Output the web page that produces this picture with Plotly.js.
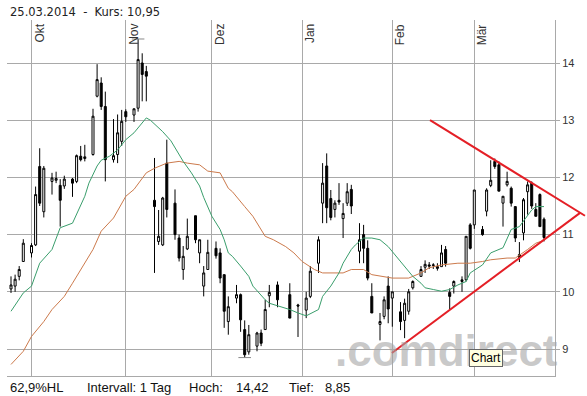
<!DOCTYPE html>
<html><head><meta charset="utf-8">
<script src="https://cdn.plot.ly/plotly-3.0.1.min.js"></script>
<style>html,body{margin:0;padding:0;background:#fff}#c{width:587px;height:396px}</style>
</head><body><div id="c"></div>
<script>
// ---- data (trading-day index 0 = 24.09.2013 ... 130 = 25.03.2014) ----
const openP  = [10.05,10.10,10.27,10.53,null,10.68,10.82,12.19,11.40,null,
  11.93,11.95,11.86,11.85,null,11.97,11.93,12.37,12.33,null,
  12.40,13.42,13.65,13.24,null,12.31,12.40,12.63,13.15,null,
  13.09,13.21,14.00,13.85,null,11.60,10.88,10.82,12.25,null,
  11.55,10.94,10.39,10.75,null,11.33,10.68,10.10,10.39,null,
  10.76,10.68,10.30,9.48,null,9.89,9.95,9.34,8.95,null,
  9.05,9.28,9.34,9.93,null,10.12,null,null,9.95,null,
  9.77,null,9.68,9.92,null,10.50,11.55,12.20,11.63,11.44,
  11.60,11.28,11.55,11.79,null,10.71,11.00,10.76,9.92,null,
  9.43,9.57,10.10,9.89,null,9.65,9.50,9.66,10.07,null,
  10.27,10.43,10.47,10.46,10.44,10.44,10.74,9.99,10.10,null,
  10.18,10.21,11.17,11.17,null,11.09,11.41,11.86,12.28,12.22,
  11.55,11.87,11.81,11.49,10.65,11.03,11.75,11.90,11.44,11.70,11.27];
const highP  = [10.27,10.30,10.45,10.92,null,10.85,11.84,12.51,12.20,null,
  12.08,12.10,11.97,12.03,null,11.99,12.40,12.55,12.57,null,
  13.20,13.98,13.75,13.50,null,13.02,13.10,13.18,13.19,null,
  13.20,14.42,14.17,13.95,null,12.34,11.43,11.66,12.66,null,
  11.79,11.00,10.80,11.28,null,11.33,10.91,10.45,10.91,null,
  10.88,10.76,10.30,9.92,null,10.12,9.97,9.50,9.42,null,
  9.30,9.34,9.86,10.12,null,10.18,null,null,10.15,null,
  9.79,null,10.00,10.45,null,10.97,12.25,12.42,11.78,11.60,
  11.90,11.55,11.90,11.87,null,11.20,11.17,10.90,10.15,null,
  9.63,9.92,10.27,10.00,null,9.82,9.88,10.05,10.20,null,
  10.45,10.55,10.52,10.50,10.50,10.82,10.80,10.06,10.20,null,
  10.27,10.97,11.20,11.78,null,11.15,11.81,12.30,12.33,12.28,
  11.67,12.10,11.84,11.49,10.87,11.64,11.93,11.93,11.55,11.72,11.30];
const lowP   = [9.98,10.00,10.20,10.53,null,10.60,10.80,11.50,11.30,null,
  11.70,11.90,11.14,11.80,null,11.66,11.90,12.28,12.28,null,
  12.38,13.40,13.18,11.93,null,12.26,12.25,12.55,12.97,null,
  12.97,13.15,13.33,13.33,null,10.33,10.82,10.80,11.30,null,
  10.91,10.53,10.21,10.73,null,10.85,10.50,9.92,10.39,null,
  10.58,10.15,9.37,9.25,null,9.80,9.30,8.85,8.90,null,
  8.96,9.05,9.34,9.73,null,9.73,null,null,9.54,null,
  9.21,null,9.54,9.89,null,10.33,11.20,11.20,11.25,11.30,
  11.52,10.94,11.50,11.36,null,10.50,10.50,10.20,9.63,null,
  9.15,9.52,9.45,9.39,null,9.33,9.19,9.60,10.04,null,
  10.27,10.33,10.40,10.40,10.37,10.44,10.44,9.69,9.97,null,
  10.00,10.18,10.74,11.10,null,10.98,11.32,11.83,12.15,11.76,
  11.14,11.84,11.49,10.87,10.52,10.90,11.35,11.45,11.32,11.14,10.88];
const closeP = [10.12,10.22,10.39,10.85,null,10.81,11.70,11.55,12.16,null,
  11.99,11.98,11.60,11.97,null,11.90,12.38,12.31,12.36,null,
  13.07,13.71,13.24,12.31,null,12.38,12.78,12.98,13.06,null,
  13.20,14.06,13.80,13.77,null,11.49,10.97,11.64,11.44,null,
  11.00,10.59,10.62,10.97,null,10.91,10.91,10.33,10.69,null,
  10.63,10.24,9.66,9.74,null,9.95,9.51,8.90,9.25,null,
  9.28,9.10,9.69,9.99,null,9.86,null,null,9.54,null,
  9.75,null,9.89,10.36,null,10.91,11.90,11.47,11.30,11.55,
  11.57,11.37,11.75,11.50,null,10.91,10.76,10.24,9.63,null,
  9.48,9.86,9.70,10.00,null,9.48,9.80,10.00,10.18,null,
  10.39,10.48,10.45,10.47,10.41,10.68,10.50,9.92,10.18,null,
  10.21,10.97,10.76,11.78,null,11.00,11.78,11.95,12.19,11.76,
  11.67,11.93,11.55,10.94,10.60,11.61,11.87,11.50,11.32,11.14,10.95];

const monthIdx    = [5, 28, 49, 71, 93, 113];
const monthLabels = ['Okt', 'Nov', 'Dez', 'Jan', 'Feb', 'Mär'];
const priceTicks  = [9, 10, 11, 12, 13, 14];

const maShortIdx = [0,3,5,7,10,12,15,18,19,21,22,24,26,28,30,33,34,37,39,41,42,44,46,47,49,51,52,53,54,56,58,59,62,63,68,70,72,75,76,78,80,81,83,84,86,88,90,92,94,96,98,100,101,103,105,107,109,111,112,115,117,120,122,124,126,127,128,130];
const maShort = [9.66,9.98,10.1,10.5,10.74,11.12,11.2,11.67,11.9,12.2,12.3,12.37,12.48,12.66,12.78,13.04,13.0,12.8,12.64,12.4,12.28,12.08,11.85,11.65,11.32,11.09,10.91,10.68,10.62,10.45,10.27,10.1,9.86,9.8,9.69,9.63,9.58,9.69,9.92,10.1,10.33,10.5,10.74,10.82,10.94,10.94,10.91,10.79,10.62,10.45,10.27,10.15,10.07,10.04,10.01,10.04,10.12,10.18,10.33,10.47,10.68,10.77,11.09,11.14,11.32,11.43,11.49,11.49];
const maLongIdx = [0,3,5,8,10,13,15,18,20,22,25,28,30,33,35,38,41,43,46,48,51,53,54,57,59,62,64,67,69,71,74,76,78,81,83,86,88,91,93,97,100,102,105,109,112,115,117,121,123,126,128,130];
const maLong = [8.73,8.96,9.22,9.48,9.69,9.92,10.15,10.5,10.74,11.06,11.29,11.67,11.79,12.08,12.16,12.25,12.28,12.25,12.22,12.11,12.08,11.81,11.75,11.49,11.32,10.97,10.91,10.79,10.68,10.53,10.39,10.33,10.33,10.33,10.39,10.39,10.3,10.27,10.24,10.24,10.33,10.42,10.47,10.5,10.5,10.53,10.56,10.59,10.59,10.74,10.85,10.9];

// hand-drawn triangle (day index, price)
const upperLineX = [102.2, 140.0], upperLineY = [13.00, 11.33];
const lowerLineX = [92.9, 138.8],  lowerLineY = [8.93, 11.38];

const headerText = '25.03.2014\u00a0\u00a0-\u00a0\u00a0Kurs:\u00a010,95';
const footerTexts = ['62,9%HL', 'Intervall: 1 Tag', 'Hoch:', '14,42', 'Tief:', '8,85'];

// ---- build ----
const dayIdx = openP.map((_, i) => i);
let hiI = 0, loI = 0;
highP.forEach((v, i) => { if (v !== null && v > highP[hiI]) hiI = i; });
lowP.forEach((v, i) => { if (v !== null && v < lowP[loI]) loI = i; });

const W = 587, H = 396, ML = 7, MR = 0, MT = 20, MB = 20;
const plotW = W - ML - MR;
const mainW = 548, pxDay = 4.1, xStart = -0.976;
const yRange = [8.528, 14.752];
const grid = '#a9a9a9';
const pxX = px => (px - ML) / plotW;
const pxY = py => (H - MB - py) / (H - MT - MB);

const traces = [
  {type:'scatter', mode:'lines', x: maLongIdx, y: maLong, line:{color:'#cc7a4c', width:1}, hoverinfo:'skip'},
  {type:'scatter', mode:'lines', x: maShortIdx, y: maShort, line:{color:'#3a9e6c', width:1}, hoverinfo:'skip'},
  {type:'candlestick', x: dayIdx, open: openP, high: highP, low: lowP, close: closeP,
   increasing:{line:{color:'#000', width:1}, fillcolor:'#fff'},
   decreasing:{line:{color:'#000', width:1}, fillcolor:'#000'},
   whiskerwidth: 0, hoverinfo:'skip'},
  {type:'scatter', mode:'markers', x:[hiI, loI], y:[highP[hiI], lowP[loI]],
   marker:{symbol:'line-ew', size:9, line:{color:'#888', width:1}}, hoverinfo:'skip'},
  {type:'scatter', mode:'lines', x: upperLineX, y: upperLineY, xaxis:'x2', yaxis:'y2',
   line:{color:'#e41f26', width:2}, hoverinfo:'skip'},
  {type:'scatter', mode:'lines', x: lowerLineX, y: lowerLineY, xaxis:'x2', yaxis:'y2',
   line:{color:'#e41f26', width:2}, hoverinfo:'skip'}
];

const ann = [];
ann.push({xref:'paper', yref:'paper', x: pxX(333), y: 0, xanchor:'left', yanchor:'bottom', yshift: -1,
  text: '.comdirect', showarrow:false,
  font:{family:'Liberation Sans, Arial, sans-serif', size:44, color:'rgba(165,165,165,0.6)', weight:'bold'}});
ann.push({xref:'paper', yref:'paper', x: pxX(8), y: 1, xanchor:'left', yanchor:'middle', yshift: 8.5,
  text: headerText, showarrow:false, font:{family:'DejaVu Sans, Verdana, sans-serif', size:11.5, color:'#222'}});
monthIdx.forEach((m, i) => ann.push({xref:'x', yref:'paper', x: m, y: 1, xshift: 7.5, yshift: -2,
  xanchor:'center', yanchor:'top', textangle: -90, text: monthLabels[i], showarrow:false,
  font:{family:'Liberation Sans, Arial, sans-serif', size:12, color:'#333'}}));
const footerPx = [8, 85, 187, 234, 287, 323];
footerTexts.forEach((t, i) => ann.push({xref:'paper', yref:'paper', x: pxX(footerPx[i]), y: 0,
  xanchor:'left', yanchor:'middle', yshift: -11, text: t, showarrow:false,
  font:{family:'Liberation Sans, Arial, sans-serif', size:13, color:'#111'}}));
ann.push({xref:'paper', yref:'paper', x: pxX(486), y: pxY(357.5), xanchor:'center', yanchor:'middle',
  text:'Chart', showarrow:false, bgcolor:'#ffffe1', bordercolor:'#666', borderwidth:1, borderpad:1,
  font:{family:'Liberation Sans, Arial, sans-serif', size:12, color:'#000'}});

const layout = {
  width: W, height: H, margin:{l:ML, r:MR, t:MT, b:MB},
  paper_bgcolor:'#fff', plot_bgcolor:'rgba(0,0,0,0)', showlegend:false,
  xaxis:{domain:[0, mainW/plotW], range:[xStart, xStart + mainW/pxDay], tickvals: monthIdx,
    showticklabels:false, ticks:'', showgrid:true, gridcolor:grid, gridwidth:1, zeroline:false,
    showline:true, linecolor:grid, linewidth:1, rangeslider:{visible:false}, fixedrange:true},
  yaxis:{range: yRange, side:'right', tickvals: priceTicks, ticktext: priceTicks.map(String),
    showgrid:true, gridcolor:grid, gridwidth:1, zeroline:false, showline:true, linecolor:grid,
    ticks:'outside', ticklen:4, tickcolor:grid,
    tickfont:{family:'Liberation Sans, Arial, sans-serif', size:11, color:'#333'}, fixedrange:true},
  xaxis2:{domain:[0,1], range:[xStart, xStart + plotW/pxDay], anchor:'y2', visible:false, fixedrange:true},
  yaxis2:{domain:[0,1], range: yRange, anchor:'x2', visible:false, fixedrange:true},
  annotations: ann
};
Plotly.newPlot('c', traces, layout, {displayModeBar:false, staticPlot:true});
</script></body></html>
